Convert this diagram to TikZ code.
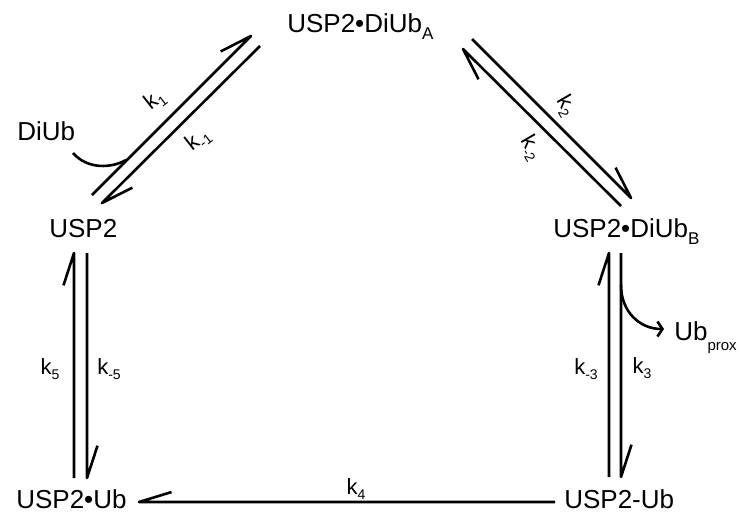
\documentclass[tikz,border=0pt]{standalone}
\usepackage{fontspec}
\setmainfont{Liberation Sans}
\usetikzlibrary{calc,arrows.meta}
\newcommand{\sbx}[1]{\raisebox{-7pt}{\fontsize{17}{17}\selectfont #1}}
\newcommand{\ksb}[1]{\raisebox{-5pt}{\fontsize{14}{14}\selectfont #1}}
\newcommand{\harp}[3]{\draw (#1) -- (#2) -- ($(#2)!34pt!#3:(#1)$);}
\begin{document}
\begin{tikzpicture}[x=1pt,y=-1pt, line width=2.6pt, line join=round,
  lbl/.style={font=\fontsize{26}{30}\selectfont, inner sep=0pt, anchor=base west},
  kl/.style={font=\fontsize{22}{24}\selectfont, inner sep=0pt}]
\useasboundingbox (0,0) rectangle (739,519);
% species
\node[lbl] (dA) at (286,33) {USP2•DiUb\sbx{A}};
\node[lbl] (usp) at (48,237) {USP2};
\node[lbl] (dB) at (552,237) {USP2•DiUb\sbx{B}};
\node[lbl] (uN) at (15,508) {USP2•Ub};
\node[lbl] (uC) at (563,508) {USP2-Ub};
\node[lbl] (di) at (16,140) {DiUb};
\node[lbl] (ubp) at (673,340) {Ub\raisebox{-10pt}{\fontsize{15}{15}\selectfont prox}};
% harpoon end points
\coordinate (a1) at (92,195);  \coordinate (b1) at (251,36);
\coordinate (a2) at (260,46);  \coordinate (b2) at (102,203);
\coordinate (a3) at (472,39);  \coordinate (b3) at (631,198);
\coordinate (a4) at (621,206); \coordinate (b4) at (463,49);
\coordinate (a5) at (74,478);  \coordinate (b5) at (74,253);
\coordinate (a6) at (87,253);  \coordinate (b6) at (87,478);
\coordinate (a7) at (609,477); \coordinate (b7) at (609,253);
\coordinate (a8) at (621,253); \coordinate (b8) at (621,477);
\coordinate (a9) at (555,502); \coordinate (b9) at (139,502);
\harp{a1}{b1}{-18}
\harp{a2}{b2}{-18}
\harp{a3}{b3}{-18}
\harp{a4}{b4}{-18}
\harp{a5}{b5}{-18}
\harp{a6}{b6}{-18}
\harp{a7}{b7}{-18}
\harp{a8}{b8}{-18}
\harp{a9}{b9}{17}
% side curves
\coordinate (c1) at (73,153);
\coordinate (c2) at (126,160);
\draw (c1) .. controls (88,170) and (112,168) .. (c2);
\coordinate (c3) at (621,285);
\coordinate (c4) at (664,329);
\draw[-{Straight Barb[length=5pt,width=15pt]}] (c3) .. controls (621,312) and (640,329) .. (c4);
% rate constants
\node[kl, rotate=38] (k1) at (155,100) {k\ksb{1}};
\node[kl, rotate=38] (km1) at (198,140) {k\ksb{-1}};
\node[kl, rotate=-60] (k2) at (566,106) {k\ksb{2}};
\node[kl, rotate=-60] (km2) at (531,148) {k\ksb{-2}};
\node[kl] (k5) at (50,369) {k\ksb{5}};
\node[kl] (km5) at (109,369) {k\ksb{-5}};
\node[kl] (km3) at (586,369) {k\ksb{-3}};
\node[kl] (k3) at (642,368) {k\ksb{3}};
\node[kl] (k4) at (356,489) {k\ksb{4}};
\end{tikzpicture}
\end{document}
